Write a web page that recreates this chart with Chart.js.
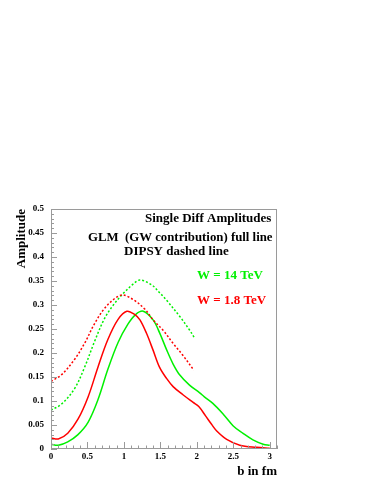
<!DOCTYPE html>
<html><head><meta charset="utf-8">
<script src="https://cdn.jsdelivr.net/npm/chart.js@4/dist/chart.umd.min.js"></script>
<style>html,body{margin:0;padding:0;background:#fff}canvas{display:block}</style>
</head><body>
<canvas id="c" width="374" height="484"></canvas>
<script>
// ---- data ----
const glm18X = [0, 0.1, 0.23, 0.37, 0.51, 0.645, 0.78, 0.92, 1.04, 1.15, 1.22, 1.31, 1.40, 1.49, 1.585, 1.675, 1.81, 1.95, 2.03, 2.12, 2.2, 2.27, 2.41, 2.59, 2.82, 3.0];
const glm18Y = [0.023, 0.021, 0.033, 0.062, 0.109, 0.171, 0.228, 0.270, 0.287, 0.280, 0.269, 0.241, 0.206, 0.170, 0.147, 0.130, 0.113, 0.097, 0.088, 0.069, 0.052, 0.038, 0.020, 0.008, 0.0035, 0.0015];
const glm14X = [0, 0.1, 0.23, 0.37, 0.51, 0.645, 0.78, 0.92, 1.055, 1.16, 1.265, 1.40, 1.49, 1.585, 1.675, 1.767, 1.90, 2.04, 2.1, 2.22, 2.36, 2.50, 2.63, 2.77, 2.91, 3.0];
const glm14Y = [0.010, 0.008, 0.015, 0.030, 0.056, 0.103, 0.166, 0.222, 0.260, 0.280, 0.287, 0.269, 0.242, 0.207, 0.177, 0.154, 0.133, 0.117, 0.109, 0.095, 0.073, 0.048, 0.033, 0.019, 0.010, 0.008];
const dipsy18X = [0, 0.14, 0.32, 0.46, 0.60, 0.735, 0.87, 0.98, 1.13, 1.29, 1.40, 1.54, 1.675, 1.80, 1.96];
const dipsy18Y = [0.141, 0.154, 0.186, 0.220, 0.262, 0.293, 0.313, 0.321, 0.311, 0.291, 0.269, 0.247, 0.220, 0.197, 0.164];
const dipsy14X = [0, 0.14, 0.32, 0.46, 0.60, 0.735, 0.87, 1.01, 1.13, 1.22, 1.38, 1.50, 1.585, 1.767, 1.90, 1.97];
const dipsy14Y = [0.081, 0.093, 0.125, 0.170, 0.225, 0.272, 0.303, 0.327, 0.344, 0.352, 0.342, 0.324, 0.310, 0.276, 0.248, 0.231];
const xTickLabels = ["0", "0.5", "1", "1.5", "2", "2.5", "3"];
const yTickLabels = ["0", "0.05", "0.1", "0.15", "0.2", "0.25", "0.3", "0.35", "0.4", "0.45", "0.5"];
const xTitle = "b in fm";
const yTitle = "Amplitude";
const textLines = ["Single Diff Amplitudes", "GLM  (GW contribution) full line", "DIPSY dashed line"];
const legend14 = "W = 14 TeV";
const legend18 = "W = 1.8 TeV";

const pts = (xs, ys) => xs.map((x, i) => ({x: x, y: ys[i]}));
const RED = '#ff0000', GREEN = '#00f000';
const SERIF = '"Liberation Serif", "Times New Roman", serif';

const framePlugin = {
  id: 'frame',
  afterDraw(chart) {
    const {ctx, chartArea: a, scales: {x, y}} = chart;
    ctx.save();
    ctx.strokeStyle = '#9a9a9a';
    ctx.lineWidth = 1;
    ctx.strokeRect(a.left + 0.5, a.top + 0.5, a.right - a.left - 1, a.bottom - a.top - 1);
    ctx.beginPath();
    for (let i = 0; i <= 31; i++) {
      const px = Math.round(x.getPixelForValue(i / 10)) + 0.5;
      const len = (i % 5 === 0) ? 7 : 3.5;
      ctx.moveTo(px, a.bottom);
      ctx.lineTo(px, a.bottom - len);
    }
    for (let i = 0; i <= 50; i++) {
      const py = Math.round(y.getPixelForValue(i / 100)) + 0.5;
      const len = (i % 5 === 0) ? 6 : 3;
      ctx.moveTo(a.left, py);
      ctx.lineTo(a.left + len, py);
    }
    ctx.stroke();
    ctx.fillStyle = '#000';
    ctx.font = 'bold 9px ' + SERIF;
    ctx.textAlign = 'center';
    ctx.textBaseline = 'middle';
    xTickLabels.forEach(l => ctx.fillText(l, x.getPixelForValue(parseFloat(l)), a.bottom + 8));
    ctx.textAlign = 'right';
    yTickLabels.forEach(l => ctx.fillText(l, a.left - 7, y.getPixelForValue(parseFloat(l))));
    ctx.font = 'bold 13px ' + SERIF;
    ctx.textAlign = 'right';
    ctx.fillText(xTitle, a.right, a.bottom + 23);
    ctx.save();
    ctx.translate(22, a.top);
    ctx.rotate(-Math.PI / 2);
    ctx.fillText(yTitle, 0, 0);
    ctx.restore();
    ctx.textAlign = 'left';
    ctx.fillText(textLines[0], 145, 219);
    ctx.font = 'bold 12.8px ' + SERIF;
    ctx.fillText(textLines[1], 88, 238);
    ctx.font = 'bold 13px ' + SERIF;
    ctx.fillText(textLines[2], 124, 252);
    ctx.fillStyle = GREEN;
    ctx.fillText(legend14, 197, 276);
    ctx.fillStyle = RED;
    ctx.fillText(legend18, 197, 301);
    ctx.restore();
  }
};

const common = {pointRadius: 0, borderWidth: 1.5, fill: false, showLine: true, tension: 0.35};

new Chart(document.getElementById('c'), {
  type: 'scatter',
  data: {
    datasets: [
      Object.assign({label: 'DIPSY 1.8', data: pts(dipsy18X, dipsy18Y), borderColor: RED, borderDash: [2, 2]}, common),
      Object.assign({label: 'DIPSY 14', data: pts(dipsy14X, dipsy14Y), borderColor: GREEN, borderDash: [2, 2]}, common),
      Object.assign({label: 'GLM 1.8', data: pts(glm18X, glm18Y), borderColor: RED}, common),
      Object.assign({label: 'GLM 14', data: pts(glm14X, glm14Y), borderColor: GREEN}, common)
    ]
  },
  options: {
    responsive: false,
    animation: false,
    events: [],
    layout: {padding: {left: 51, top: 209, right: 97, bottom: 35}},
    plugins: {legend: {display: false}, tooltip: {enabled: false}, title: {display: false}},
    scales: {
      x: {type: 'linear', min: 0, max: 3.1, display: false},
      y: {type: 'linear', min: 0, max: 0.5, display: false}
    }
  },
  plugins: [framePlugin]
});
</script>
</body></html>
